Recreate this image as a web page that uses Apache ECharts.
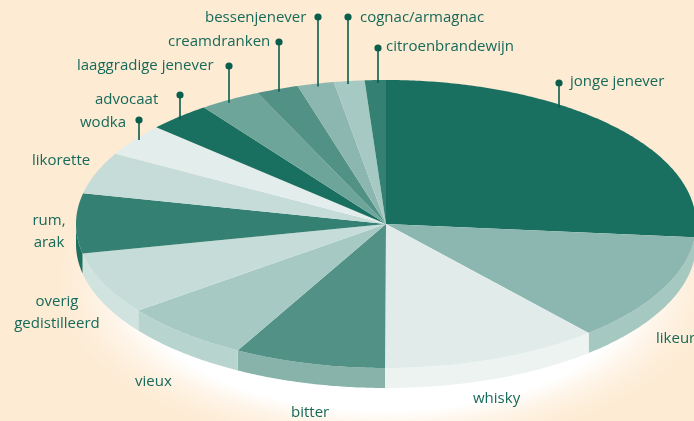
<!DOCTYPE html>
<html>
<head>
<meta charset="utf-8">
<script src="https://cdn.jsdelivr.net/npm/echarts@6/dist/echarts.min.js"></script>
<style>
html, body { margin: 0; padding: 0; background: #fdebd3; }
#chart { width: 694px; height: 421px; }
</style>
</head>
<body>
<div id="chart"></div>
<script>
// slices, clockwise from 12 o'clock
const categories = [
  "jonge jenever", "likeur", "whisky", "bitter", "vieux",
  "overig gedistilleerd", "rum, arak", "likorette", "wodka", "advocaat",
  "laaggradige jenever", "creamdranken", "bessenjenever", "cognac/armagnac", "citroenbrandewijn",
];
const shares = [26.5, 12.2, 11.4, 7.9, 6.8, 7.0, 6.7, 4.7, 3.6, 3.3, 3.2, 2.2, 1.9, 1.6, 1.1];

const topColors = [
  "#1a7060", "#8bb7b0", "#e1ecea", "#529286", "#a7c9c3",
  "#c5dcd8", "#348073", "#c5dcd8", "#e3edeb", "#1a7060",
  "#6ea59b", "#529286", "#8bb7b0", "#a7c9c3", "#348073",
];
const wallColors = [
  "#5e9c91", "#a5c8c1", "#ecf3f1", "#88b3aa", "#b8d4ce",
  "#d0e3df", "#1d6f60", "#d0e3df", "#ecf3f1", "#1d6f60",
  "#8fbab2", "#88b3aa", "#a5c8c1", "#b8d4ce", "#5e9c91",
];

// label layout: [text, x, y, align, pinX, pinY]
const labels = [
  ["jonge jenever", 570, 82, "left", 559, 83],
  ["likeur", 656, 339, "left"],
  ["whisky", 473, 399, "left"],
  ["bitter", 291, 413, "left"],
  ["vieux", 135, 382, "left"],
  ["overig\ngedistilleerd", 57, 313, "center"],
  ["rum,\narak", 49, 232, "center"],
  ["likorette", 32, 161, "left"],
  ["wodka", 80, 123, "left", 139, 120],
  ["advocaat", 95, 100, "left", 180, 95],
  ["laaggradige jenever", 77, 66, "left", 229, 66],
  ["creamdranken", 168, 42, "left", 279, 42],
  ["bessenjenever", 205, 18, "left", 318, 17],
  ["cognac/armagnac", 360, 18, "left", 348, 17],
  ["citroenbrandewijn", 386, 47, "left", 378, 48],
];

const CX = 386, CY = 224, RX = 310, RY = 144, DEPTH = 20;
const TEXT = "#17695a", PIN = "#0b5e4c";
const FONT = '15px "Open Sans", sans-serif';

const total = shares.reduce((a, b) => a + b, 0);
const starts = [];
let acc = 0;
shares.forEach((v) => { starts.push(acc / total * Math.PI * 2); acc += v; });

function pt(t, dy) {
  return [CX + RX * Math.sin(t), CY - RY * Math.cos(t) + (dy || 0)];
}

function arc(a0, a1, dy) {
  const n = Math.max(2, Math.ceil((a1 - a0) / 0.01));
  const pts = [];
  for (let k = 0; k <= n; k++) pts.push(pt(a0 + (a1 - a0) * k / n, dy));
  return pts;
}

function edgeY(x) {
  const u = (x - CX) / RX;
  return CY - RY * Math.sqrt(Math.max(0, 1 - u * u));
}

const graphics = [];
labels.forEach((l) => {
  if (l[4] != null) {
    graphics.push({
      type: "line", z: 100,
      shape: { x1: l[4], y1: l[5], x2: l[4], y2: edgeY(l[4]) + 3 },
      style: { stroke: PIN, lineWidth: 1.6 },
    });
    graphics.push({
      type: "circle", z: 101,
      shape: { cx: l[4], cy: l[5], r: 3.6 },
      style: { fill: PIN },
    });
  }
  graphics.push({
    type: "text", z: 102,
    style: {
      text: l[0], x: l[1], y: l[2], fill: TEXT, font: FONT,
      textAlign: l[3], textVerticalAlign: "middle", lineHeight: 22,
    },
  });
});

const sliceData = shares.map((v, i) => [i, v]);

const option = {
  backgroundColor: "#fdebd3",
  animation: false,
  graphic: graphics,
  series: [
    {
      // soft white glow under the pie
      type: "custom", coordinateSystem: "none", silent: true, z: 1,
      data: [[0]],
      renderItem() {
        return {
          type: "circle",
          shape: { cx: 0, cy: 0, r: 1 },
          x: CX, y: 285, scaleX: 350, scaleY: 175,
          style: {
            fill: new echarts.graphic.RadialGradient(0.5, 0.5, 0.5, [
              { offset: 0, color: "#ffffff" },
              { offset: 0.72, color: "#ffffff" },
              { offset: 1, color: "rgba(253,235,211,0)" },
            ]),
          },
        };
      },
    },
    {
      // side wall (front half only)
      type: "custom", coordinateSystem: "none", silent: true, z: 2,
      data: sliceData,
      renderItem(params, api) {
        const i = params.dataIndex;
        const a0 = starts[i];
        const a1 = a0 + api.value(1) / total * Math.PI * 2;
        const s = Math.max(a0, Math.PI / 2);
        const e = Math.min(a1, Math.PI * 1.5);
        if (s >= e) return;
        const pts = arc(s, e, 0).concat(arc(s, e, DEPTH).reverse());
        return { type: "polygon", shape: { points: pts }, style: { fill: wallColors[i] } };
      },
    },
    {
      // top face
      type: "custom", coordinateSystem: "none", silent: true, z: 3,
      data: sliceData,
      renderItem(params, api) {
        const i = params.dataIndex;
        const a0 = starts[i];
        const a1 = a0 + api.value(1) / total * Math.PI * 2;
        const pts = [[CX, CY]].concat(arc(a0, a1, 0));
        return { type: "polygon", shape: { points: pts }, style: { fill: topColors[i] } };
      },
    },
  ],
};

const myChart = echarts.init(document.getElementById("chart"));
myChart.setOption(option);
</script>
</body>
</html>
